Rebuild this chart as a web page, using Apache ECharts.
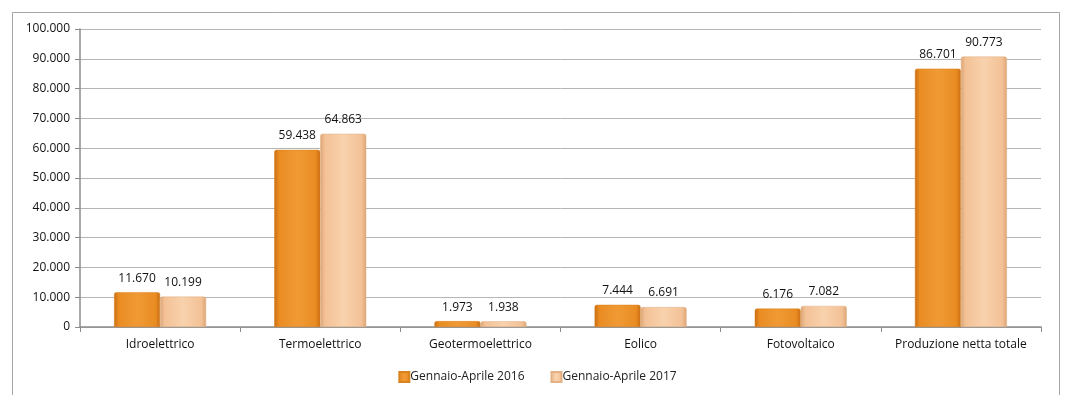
<!DOCTYPE html>
<html>
<head>
<meta charset="utf-8">
<script src="https://cdn.jsdelivr.net/npm/echarts@6/dist/echarts.min.js"></script>
<style>
  html, body { margin: 0; padding: 0; background: #fff; }
  #chart { width: 1075px; height: 395px; }
</style>
</head>
<body>
<div id="chart"></div>
<script>
// Produzione elettrica per fonte (GWh), confronto gennaio-aprile
const categories = ['Idroelettrico', 'Termoelettrico', 'Geotermoelettrico', 'Eolico', 'Fotovoltaico', 'Produzione netta totale'];
const seriesNames = ['Gennaio-Aprile 2016', 'Gennaio-Aprile 2017'];
const values2016 = [11670, 59438, 1973, 7444, 6176, 86701];
const values2017 = [10199, 64863, 1938, 6691, 7082, 90773];

// Italian thousands separator
function fmt(v) {
  return String(v).replace(/\B(?=(\d{3})+(?!\d))/g, '.');
}

const FONT = 'Open Sans';

function barGradient(edge, mid, light) {
  return new echarts.graphic.LinearGradient(0, 0, 1, 0, [
    { offset: 0, color: edge },
    { offset: 0.1, color: mid },
    { offset: 0.5, color: light },
    { offset: 0.9, color: mid },
    { offset: 1, color: edge }
  ]);
}

const chart = echarts.init(document.getElementById('chart'), null, { renderer: 'canvas' });

const labelStyle = {
  show: true,
  position: 'top',
  distance: 8,
  color: '#111',
  fontFamily: FONT,
  fontSize: 12,
  formatter: p => fmt(p.value)
};

chart.setOption({
  animation: false,
  backgroundColor: '#fff',
  graphic: [{
    type: 'rect',
    shape: { x: 12.5, y: 12.5, width: 1047, height: 400 },
    style: { fill: 'none', stroke: '#a6a6a6', lineWidth: 1 },
    silent: true
  }],
  grid: { left: 80, right: 34, top: 29, bottom: 68, containLabel: false },
  legend: {
    bottom: 7,
    left: 'center',
    itemWidth: 10,
    itemHeight: 10,
    itemGap: 26,
    icon: 'rect',
    textStyle: { fontFamily: FONT, fontSize: 12, color: '#222', padding: [0, 0, 0, -4] },
    data: seriesNames
  },
  xAxis: {
    type: 'category',
    data: categories,
    axisLine: { lineStyle: { color: '#8c8c8c', width: 1.5 } },
    axisTick: { show: true, length: 5, lineStyle: { color: '#8c8c8c' } },
    axisLabel: { interval: 0, hideOverlap: false, color: '#111', fontFamily: FONT, fontSize: 12, margin: 12 }
  },
  yAxis: {
    type: 'value',
    min: 0,
    max: 100000,
    interval: 10000,
    axisLine: { show: true, lineStyle: { color: '#8c8c8c', width: 1.5 } },
    axisTick: { show: true, length: 5, lineStyle: { color: '#8c8c8c' } },
    axisLabel: { color: '#111', fontFamily: FONT, fontSize: 12, margin: 10, formatter: v => fmt(v) },
    splitLine: { lineStyle: { color: '#b5b5b5', width: 1 } }
  },
  series: [
    {
      name: seriesNames[0],
      type: 'bar',
      data: values2016,
      barWidth: 46,
      barGap: '0%',
      itemStyle: {
        color: barGradient('#c96c12', '#e98c22', '#f09a35'),
        borderColor: '#d9831e',
        borderWidth: 0.5,
        borderRadius: [2, 2, 0, 0]
      },
      label: labelStyle
    },
    {
      name: seriesNames[1],
      type: 'bar',
      data: values2017,
      barWidth: 46,
      itemStyle: {
        color: barGradient('#dba474', '#f3c196', '#f8d2ad'),
        borderColor: '#e3b184',
        borderWidth: 0.5,
        borderRadius: [2, 2, 0, 0]
      },
      label: labelStyle
    }
  ]
});
</script>
</body>
</html>
